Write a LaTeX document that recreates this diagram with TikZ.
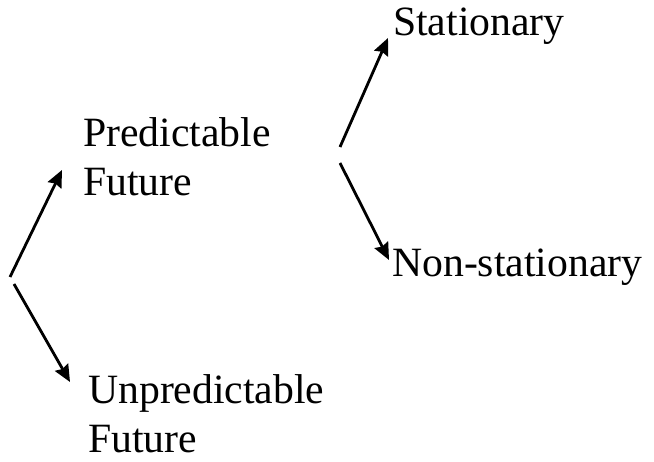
\documentclass[tikz,border=0pt]{standalone}
\usepackage{fontspec}
\setmainfont{Liberation Serif}
\usetikzlibrary{arrows.meta}
\begin{document}
\begin{tikzpicture}[x=1pt,y=-1pt,
  lbl/.style={inner sep=0pt,anchor=base west,align=left,font=\fontsize{41.7}{49}\selectfont},
  arr/.style={line width=2.8pt,-{Stealth[length=17pt,width=15pt,inset=2pt]}}]
\useasboundingbox (0,0) rectangle (654,462);
\node[lbl] (pf) at (83,196) {Predictable\\Future};
\node[lbl] (uf) at (88,453) {Unpredictable\\Future};
\node[lbl] (st) at (393,36) {Stationary};
\node[lbl] (ns) at (392,277) {Non-stationary};
\coordinate (l1) at (10,277);
\coordinate (l2) at (14,284);
\coordinate (r1) at (340,147);
\coordinate (r2) at (340,163);
\coordinate (tpf) at (62,170);
\coordinate (tuf) at (70,382);
\coordinate (tst) at (388,38);
\coordinate (tns) at (389,260);
\draw[arr] (l1) -- (tpf);
\draw[arr] (l2) -- (tuf);
\draw[arr] (r1) -- (tst);
\draw[arr] (r2) -- (tns);
\end{tikzpicture}
\end{document}
